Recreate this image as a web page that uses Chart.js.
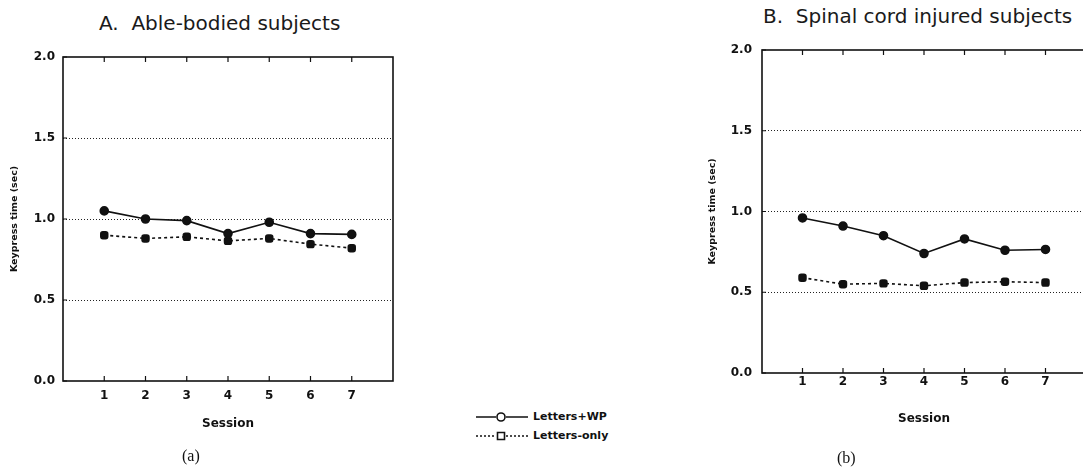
<!DOCTYPE html>
<html>
<head>
<meta charset="utf-8">
<script src="https://cdn.jsdelivr.net/npm/chart.js@4"></script>
<style>
  html, body { margin: 0; padding: 0; background: #fff; }
  body { width: 1083px; height: 468px; overflow: hidden; position: relative; font-family: "DejaVu Sans", sans-serif; }
  .panel { position: absolute; top: 0; width: 440px; height: 468px; }
  .ttl { position: absolute; font-size: 20px; white-space: pre; color: #1a1a1a; line-height: 1; }
  .cap { position: absolute; font-family: "Liberation Serif", serif; font-size: 16px; color: #111; line-height: 1; }
  .leg { position: absolute; left: 475px; font-size: 11px; font-weight: bold; color: #111; line-height: 1; white-space: nowrap; }
  .leg canvas { vertical-align: middle; margin-right: 4px; }
</style>
</head>
<body>
<div class="ttl" style="left:99px;top:13px">A.  Able-bodied subjects</div>
<div class="ttl" style="left:763px;top:6px">B.  Spinal cord injured subjects</div>
<div class="panel" style="left:0"><canvas id="chartA" width="440" height="468"></canvas></div>
<div class="panel" style="left:680px"><canvas id="chartB" width="440" height="468"></canvas></div>
<div class="cap" style="left:182px;top:448px">(a)</div>
<div class="cap" style="left:837px;top:450px">(b)</div>
<div class="leg" style="top:411px"><canvas id="legWP" width="54" height="12"></canvas>Letters+WP</div>
<div class="leg" style="top:430px"><canvas id="legLO" width="54" height="12"></canvas>Letters-only</div>
<script>
const sessions = [1, 2, 3, 4, 5, 6, 7];
const yTicks = [0, 0.5, 1.0, 1.5, 2.0];

// A. able-bodied
const ableWP      = [1.05, 1.00, 0.99, 0.91, 0.98, 0.91, 0.905];
const ableLetters = [0.90, 0.88, 0.89, 0.865, 0.88, 0.845, 0.82];

// B. spinal cord injured
const sciWP      = [0.96, 0.91, 0.85, 0.74, 0.83, 0.76, 0.765];
const sciLetters = [0.59, 0.55, 0.555, 0.54, 0.56, 0.565, 0.56];

Chart.defaults.font.family = '"DejaVu Sans", sans-serif';
Chart.defaults.color = '#111';

const toXY = arr => sessions.map((s, i) => ({ x: s, y: arr[i] }));

// box around the plot with inward tick marks, like the paper figure
const framePlugin = {
  id: 'frame',
  afterDraw(chart) {
    const { ctx, chartArea: a, scales } = chart;
    ctx.save();
    ctx.strokeStyle = '#111';
    ctx.lineWidth = 1.6;
    ctx.strokeRect(a.left, a.top, a.right - a.left, a.bottom - a.top);
    ctx.lineWidth = 1.2;
    ctx.beginPath();
    sessions.forEach(s => {
      const px = scales.x.getPixelForValue(s);
      ctx.moveTo(px, a.bottom); ctx.lineTo(px, a.bottom - 5);
      ctx.moveTo(px, a.top); ctx.lineTo(px, a.top + 5);
    });
    yTicks.forEach(v => {
      const py = scales.y.getPixelForValue(v);
      ctx.moveTo(a.left, py); ctx.lineTo(a.left + 4, py);
    });
    ctx.stroke();
    ctx.restore();
  }
};

function makeConfig(wp, lo, d) {
  return {
    type: 'line',
    data: {
      datasets: [{
        label: 'Letters+WP',
        data: toXY(wp),
        borderColor: '#111',
        backgroundColor: '#111',
        borderWidth: 1.6,
        pointStyle: 'circle',
        pointRadius: 4,
        tension: 0
      }, {
        label: 'Letters-only',
        data: toXY(lo),
        borderColor: '#111',
        backgroundColor: '#111',
        borderWidth: 1.6,
        borderDash: [3, 3],
        pointStyle: 'rectRounded',
        pointRadius: 4,
        tension: 0
      }]
    },
    options: {
      responsive: false,
      animation: false,
      layout: { padding: { top: d.top, left: 0, right: d.right, bottom: d.bottom } },
      plugins: { legend: { display: false }, tooltip: { enabled: false }, title: { display: false } },
      scales: {
        x: {
          type: 'linear', min: 0, max: 8,
          afterFit: s => { s.height = d.xh; },
          afterBuildTicks: s => { s.ticks = [0, ...sessions, 8].map(v => ({ value: v })); },
          ticks: {
            callback: v => (v >= 1 && v <= 7 ? v : ''),
            font: { size: 12, weight: 'bold' },
            padding: d.xPad,
            maxRotation: 0
          },
          grid: { display: false, drawTicks: false },
          border: { display: false },
          title: { display: true, text: 'Session', font: { size: 12, weight: 'bold' }, padding: { top: 0, bottom: 4 } }
        },
        y: {
          min: 0, max: 2,
          afterFit: s => { s.width = d.yw; },
          afterBuildTicks: s => { s.ticks = yTicks.map(v => ({ value: v })); },
          ticks: {
            callback: v => v.toFixed(1),
            font: { size: 12, weight: 'bold' },
            padding: d.yPad
          },
          grid: {
            drawTicks: false,
            lineWidth: 1,
            color: c => (c.tick && c.tick.value > 0 && c.tick.value < 2 ? '#222' : 'rgba(0,0,0,0)')
          },
          border: { display: false, dash: [1, 2] },
          title: { display: true, text: 'Keypress time (sec)', font: { size: 9.5, weight: 'bold' }, padding: { top: d.ytPad, bottom: 0 } }
        }
      }
    },
    plugins: [framePlugin]
  };
}

const chartA = new Chart(document.getElementById('chartA'),
  makeConfig(ableWP, ableLetters, { top: 57, right: 47, bottom: 33, xh: 54, yw: 63, xPad: 8, yPad: 8, ytPad: 9 }));

const chartB = new Chart(document.getElementById('chartB'),
  makeConfig(sciWP, sciLetters, { top: 50, right: 34, bottom: 38, xh: 57, yw: 82, xPad: 2, yPad: 10, ytPad: 27 }));

// legend samples
function legendSample(id, dash, square) {
  const c = document.getElementById(id).getContext('2d');
  c.strokeStyle = '#111';
  c.lineWidth = 1.5;
  c.setLineDash(dash);
  c.beginPath(); c.moveTo(1, 6); c.lineTo(21, 6); c.moveTo(31, 6); c.lineTo(53, 6); c.stroke();
  c.setLineDash([]);
  c.lineWidth = 1.6;
  c.beginPath();
  if (square) c.rect(22.5, 2.5, 7, 7); else c.arc(26, 6, 4, 0, Math.PI * 2);
  c.stroke();
}
legendSample('legWP', [], false);
legendSample('legLO', [2, 2], true);
</script>
</body>
</html>
